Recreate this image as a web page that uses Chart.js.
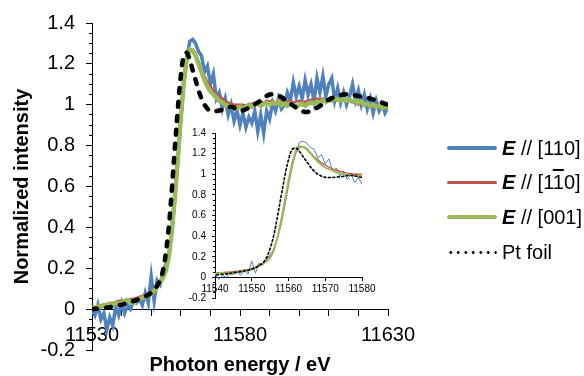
<!DOCTYPE html>
<html>
<head>
<meta charset="utf-8">
<script src="https://cdn.jsdelivr.net/npm/chart.js@4.4.1/dist/chart.umd.min.js"></script>
<style>
  html, body { margin: 0; padding: 0; background: #fff; }
  #wrap { position: relative; width: 584px; height: 376px; font-family: 'Liberation Sans', Arial, sans-serif; }
  #wrap canvas { position: absolute; left: 0; top: 0; }
  .row { position: absolute; left: 447px; height: 24px; display: flex; align-items: center; white-space: nowrap; font-size: 20px; color: #000; }
  .swatch { width: 50px; margin-right: 5px; border-radius: 2px; }
  .dots { height: 3px; background: radial-gradient(circle, #000 1.2px, transparent 1.6px) 0 0 / 7.5px 3px repeat-x; }
  .ov { text-decoration: overline; }
</style>
</head>
<body>
<div id="wrap">
  <canvas id="mainChart" width="584" height="376"></canvas>
  <canvas id="insetChart" width="584" height="376"></canvas>
  <div class="row" style="top:136px"><span class="swatch" style="height:3.5px;background:#4f81bd"></span><span><b><i>E</i></b> // [110]</span></div>
  <div class="row" style="top:170px"><span class="swatch" style="height:3px;background:#c0504d"></span><span><b><i>E</i></b> // [1<span class="ov">1</span>0]</span></div>
  <div class="row" style="top:205px"><span class="swatch" style="height:4px;background:#9bbb59"></span><span><b><i>E</i></b> // [001]</span></div>
  <div class="row" style="top:240px"><span class="swatch dots"></span><span>Pt foil</span></div>
</div>
<script>
// Axis titles
const xTitle = 'Photon energy / eV';
const yTitle = 'Normalized intensity';

// Photon energy grid (eV) for the three polarisation spectra
const energy = [
    11530, 11531, 11532, 11533, 11534, 11535, 11536, 11537, 11538, 11539,
    11540, 11541, 11542, 11543, 11544, 11545, 11546, 11547, 11548, 11549,
    11550, 11551, 11552, 11553, 11554, 11555, 11556, 11557, 11558, 11559,
    11560, 11561, 11562, 11563, 11564, 11565, 11566, 11567, 11568, 11569,
    11570, 11571, 11572, 11573, 11574, 11575, 11576, 11577, 11578, 11579,
    11580, 11581, 11582, 11583, 11584, 11585, 11586, 11587, 11588, 11589,
    11590, 11591, 11592, 11593, 11594, 11595, 11596, 11597, 11598, 11599,
    11600, 11601, 11602, 11603, 11604, 11605, 11606, 11607, 11608, 11609,
    11610, 11611, 11612, 11613, 11614, 11615, 11616, 11617, 11618, 11619,
    11620, 11621, 11622, 11623, 11624, 11625, 11626, 11627, 11628, 11629,
    11630
];

// E // [110]
const e110 = [
    0.00, -0.03, 0.02, -0.05, -0.02, -0.10, -0.04, -0.08, 0.01, -0.03,
    0.03, -0.02, 0.02, 0.00, 0.04, 0.03, 0.05, 0.02, 0.08, 0.03,
    0.16, 0.04, 0.14, 0.12, 0.18, 0.22, 0.27, 0.38, 0.55, 0.74,
    0.93, 1.10, 1.22, 1.31, 1.32, 1.30, 1.26, 1.24, 1.16, 1.19,
    1.10, 1.15, 1.03, 1.06, 0.98, 1.03, 0.95, 1.00, 0.92, 0.97,
    0.90, 0.96, 0.89, 0.94, 0.91, 0.97, 0.87, 0.95, 0.86, 0.97,
    0.93, 1.01, 0.97, 1.03, 0.98, 1.00, 1.06, 1.02, 1.11, 1.04,
    1.09, 1.03, 1.12, 1.05, 1.10, 1.02, 1.13, 1.06, 1.14, 1.04,
    1.10, 1.13, 1.02, 1.08, 1.01, 1.06, 1.00, 1.04, 1.10, 1.02,
    1.07, 1.00, 1.05, 0.98, 1.03, 0.96, 1.02, 0.97, 1.00, 0.96,
    0.99
];

// E // [1-10]
const e1m10 = [
    0.01, 0.01, 0.015, 0.02, 0.02, 0.025, 0.03, 0.03, 0.035, 0.04,
    0.04, 0.045, 0.045, 0.05, 0.05, 0.055, 0.06, 0.065, 0.07, 0.075,
    0.085, 0.10, 0.115, 0.135, 0.165, 0.20, 0.27, 0.38, 0.52, 0.70,
    0.90, 1.08, 1.21, 1.26, 1.27, 1.25, 1.21, 1.17, 1.14, 1.11,
    1.09, 1.07, 1.05, 1.04, 1.03, 1.02, 1.01, 1.005, 1.00, 1.00,
    1.00, 1.00, 0.995, 1.00, 1.005, 1.01, 1.01, 1.015, 1.01, 1.02,
    1.015, 1.02, 1.01, 1.015, 1.02, 1.01, 1.015, 1.02, 1.01, 1.015,
    1.02, 1.01, 1.015, 1.02, 1.025, 1.02, 1.03, 1.025, 1.03, 1.02,
    1.03, 1.025, 1.03, 1.02, 1.025, 1.02, 1.015, 1.02, 1.01, 1.015,
    1.00, 1.005, 0.995, 1.00, 0.99, 0.995, 0.985, 0.99, 0.98, 0.985,
    0.98
];

// E // [001]
const e001 = [
    0.01, 0.005, 0.015, 0.01, 0.02, 0.015, 0.025, 0.02, 0.03, 0.025,
    0.03, 0.04, 0.045, 0.035, 0.03, 0.04, 0.05, 0.055, 0.06, 0.065,
    0.075, 0.09, 0.11, 0.13, 0.155, 0.19, 0.26, 0.39, 0.55, 0.74,
    0.94, 1.11, 1.23, 1.27, 1.265, 1.24, 1.20, 1.16, 1.12, 1.09,
    1.065, 1.05, 1.035, 1.02, 1.01, 1.00, 0.995, 0.99, 0.98, 0.985,
    0.99, 0.98, 0.99, 1.00, 0.99, 1.00, 1.01, 0.995, 1.005, 1.01,
    1.00, 1.01, 1.005, 1.015, 1.00, 1.01, 0.995, 1.005, 1.00, 0.99,
    1.00, 1.005, 0.995, 1.005, 1.01, 1.005, 1.015, 1.01, 1.02, 1.015,
    1.025, 1.02, 1.03, 1.025, 1.02, 1.03, 1.02, 1.025, 1.015, 1.02,
    1.01, 1.015, 1.00, 1.005, 0.995, 1.00, 0.99, 0.995, 0.985, 0.99,
    0.985
];

// Pt foil reference
const foilEnergy = [
    11530, 11534, 11538, 11542, 11546, 11549, 11551, 11553, 11554, 11555,
    11556, 11557, 11558, 11559, 11560, 11561, 11562, 11563, 11564, 11565,
    11566, 11567, 11568, 11570, 11574, 11577, 11580, 11583, 11587, 11590,
    11593, 11597, 11602, 11606, 11610, 11615, 11619, 11624, 11630
];
const foilValues = [
    0.00, 0.005, 0.015, 0.03, 0.05, 0.07, 0.095, 0.14, 0.19, 0.28,
    0.41, 0.59, 0.79, 0.98, 1.14, 1.24, 1.255, 1.22, 1.17, 1.12,
    1.07, 1.03, 1.00, 0.97, 0.975, 0.99, 0.97, 0.985, 1.02, 1.05,
    1.045, 1.005, 0.965, 0.985, 1.025, 1.05, 1.045, 1.03, 1.00
];

// Axis ranges
const mainX = [11530, 11630];
const insetX = [11540, 11580];
const yRange = [-0.2, 1.4];

const fontFamily = "'Liberation Sans', Arial, sans-serif";
const toPoints = (xs, ys) => xs.map((x, i) => ({ x: x, y: ys[i] }));
const yLabel = v => String(Math.round(v * 10) / 10);

function buildDatasets(w) {
    return [
        { label: 'E // [110]', data: toPoints(energy, e110), borderColor: '#4f81bd', borderWidth: w.blue, order: 4 },
        { label: 'E // [1-10]', data: toPoints(energy, e1m10), borderColor: '#c0504d', borderWidth: w.red, order: 3 },
        { label: 'E // [001]', data: toPoints(energy, e001), borderColor: '#9bbb59', borderWidth: w.green, order: 2 },
        { label: 'Pt foil', data: toPoints(foilEnergy, foilValues), borderColor: '#000', borderWidth: w.foil,
          borderDash: w.dash, borderCapStyle: 'round', tension: 0.35, order: 1 }
    ].map(ds => ({ ...ds, pointRadius: 0, fill: false }));
}

function buildScales(o) {
    return {
        x: {
            type: 'linear', min: o.x[0], max: o.x[1], position: { y: 0 },
            ticks: {
                stepSize: 10, autoSkip: false, maxRotation: 0, padding: o.xPad, color: '#000',
                font: { size: o.font, family: fontFamily },
                callback: v => ((v - o.x[0]) % o.labelEvery === 0 ? String(v) : '')
            },
            grid: { drawOnChartArea: false, tickLength: o.tick, tickColor: '#000' },
            border: { color: '#000' }
        },
        y: {
            type: 'linear', min: yRange[0], max: yRange[1], position: 'left',
            afterFit: s => { s.width = o.left; },
            ticks: { stepSize: 0.2, padding: o.yPad, color: '#000', font: { size: o.font, family: fontFamily }, callback: yLabel },
            grid: { drawOnChartArea: false, tickLength: o.tick, tickColor: '#000' },
            border: { color: '#000' }
        },
        yMinor: {
            type: 'linear', min: yRange[0], max: yRange[1], position: { x: o.x[0] },
            ticks: { display: false, stepSize: 0.05 },
            grid: { drawOnChartArea: false, tickLength: o.minorTick, tickColor: '#000' },
            border: { display: false }
        }
    };
}

const axisTitles = {
    id: 'axisTitles',
    afterDraw(chart) {
        const { ctx, chartArea } = chart;
        ctx.save();
        ctx.font = 'bold 20px ' + fontFamily;
        ctx.fillStyle = '#000';
        ctx.textAlign = 'center';
        ctx.textBaseline = 'middle';
        ctx.fillText(xTitle, (chartArea.left + chartArea.right) / 2, 365);
        ctx.translate(22, (chartArea.top + chartArea.bottom) / 2);
        ctx.rotate(-Math.PI / 2);
        ctx.fillText(yTitle, 0, 0);
        ctx.restore();
    }
};

const common = {
    responsive: false,
    animation: false,
    plugins: { legend: { display: false }, tooltip: { enabled: false } }
};

new Chart(document.getElementById('mainChart'), {
    type: 'line',
    data: { datasets: buildDatasets({ blue: 3.5, red: 2.5, green: 4.5, foil: 4.5, dash: [5, 9] }) },
    options: {
        ...common,
        layout: { padding: { left: 0, top: 20, right: 196, bottom: 26 } },
        scales: buildScales({ x: mainX, labelEvery: 50, font: 20, tick: 6, minorTick: 3, xPad: 8, yPad: 11, left: 92 })
    },
    plugins: [axisTitles]
});

new Chart(document.getElementById('insetChart'), {
    type: 'line',
    data: { datasets: buildDatasets({ blue: 1, red: 1.3, green: 2, foil: 1.6, dash: [2, 2.5] }) },
    options: {
        ...common,
        layout: { padding: { left: 0, top: 133, right: 222, bottom: 78 } },
        scales: buildScales({ x: insetX, labelEvery: 10, font: 10, tick: 3, minorTick: 2, xPad: 3, yPad: 6, left: 215 })
    }
});
</script>
</body>
</html>
